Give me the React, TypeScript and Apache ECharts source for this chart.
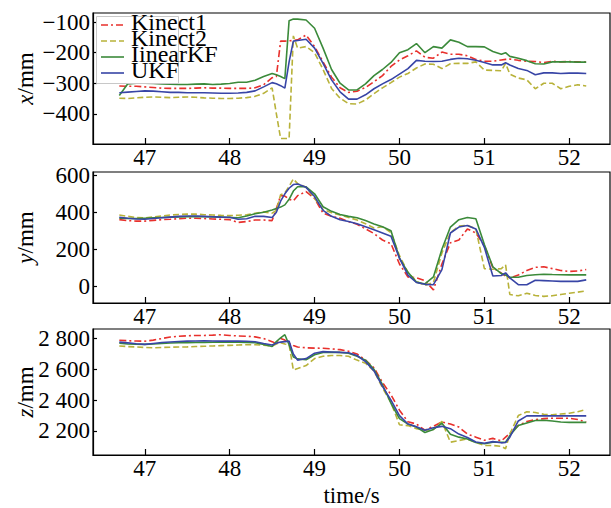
import React, { useEffect, useRef } from "react";
import * as echarts from "echarts";

const FONT = "Liberation Serif, DejaVu Serif";

const T = [
  46.7, 46.8, 46.9, 47.0, 47.1, 47.2, 47.3, 47.4, 47.5, 47.6,
  47.7, 47.8, 47.9, 48.0, 48.1, 48.2, 48.3, 48.4, 48.5, 48.55,
  48.6, 48.65, 48.7, 48.75, 48.8, 48.9, 49.0, 49.1, 49.2, 49.3,
  49.4, 49.5, 49.6, 49.7, 49.8, 49.9, 50.0, 50.1, 50.2, 50.3,
  50.4, 50.5, 50.6, 50.7, 50.8, 50.9, 51.0, 51.1, 51.2, 51.25,
  51.3, 51.4, 51.5, 51.6, 51.7, 51.8, 51.9, 52.0, 52.1, 52.2,
];

const NAMES = ["Kinect1", "Kinect2", "IinearKF", "UKF"];
const COLORS = ["#e8302c", "#b8b23a", "#3b8a3a", "#3845a6"];

const xKinect1 = [
  -309, -310, -310, -312, -314, -316, -317, -317, -317, -316,
  -315, -316, -316, -317, -317, -317, -315, -305, -282, -278,
  -162, -162, -161, -160, -158, -142, -180, -230, -280, -315,
  -330, -326, -314, -295, -275, -245, -224, -210, -194, -215,
  -218, -198, -205, -205, -210, -222, -228, -228, -224, -222,
  -221, -225, -228, -229, -232, -228, -230, -229, -230, -231,
];
const xKinect2 = [
  -349, -350, -348, -346, -345, -346, -347, -346, -345, -346,
  -348, -349, -350, -350, -349, -347, -343, -333, -315, -400,
  -481, -481, -481, -145, -185, -180, -200, -255, -317, -349,
  -367, -368, -355, -334, -315, -298, -280, -268, -250, -237,
  -238, -252, -236, -235, -235, -230, -257, -258, -259, -235,
  -270, -283, -289, -318, -300, -300, -318, -310, -305, -309,
];
const xLinearKF = [
  -340, -302, -300, -300, -301, -302, -303, -304, -304, -303,
  -302, -304, -303, -301, -297, -297, -290, -278, -268, -272,
  -278, -285, -95, -90, -90, -93, -120, -185, -255, -300,
  -322, -322, -302, -275, -255, -232, -200, -190, -170, -200,
  -180, -185, -158, -166, -180, -180, -181, -196, -205, -200,
  -212, -218, -226, -236, -237, -230, -230, -230, -231, -231,
];
const xUKF = [
  -331, -329, -327, -325, -326, -328, -330, -330, -331, -331,
  -331, -332, -333, -333, -332, -330, -325, -312, -298, -302,
  -308, -316, -230, -162, -160, -156, -185, -235, -289, -328,
  -352, -352, -338, -318, -302, -288, -270, -252, -225, -228,
  -229, -228, -222, -218, -220, -225, -232, -240, -240, -233,
  -240, -252, -258, -272, -266, -266, -268, -267, -267, -268,
];

const yKinect1 = [
  360, 355, 352, 352, 356, 360, 362, 365, 368, 368,
  366, 364, 362, 360, 345, 350, 358, 358, 355, 420,
  490, 488, 470, 462, 490, 512, 475, 395, 378, 368,
  350, 335, 310, 285, 250, 230, 120, 50, 45, 30,
  -20, 120, 235, 250, 310, 288, 220, 100, 70, 55,
  45, 60, 85, 102, 105, 95, 85, 80, 82, 90,
];
const yKinect2 = [
  385, 378, 372, 370, 375, 380, 385, 388, 390, 390,
  387, 385, 383, 382, 384, 386, 395, 402, 395, 410,
  495, 505, 540, 580, 555, 535, 475, 415, 398, 385,
  372, 358, 338, 315, 322, 290, 165, 75, 25, 5,
  20, 180, 290, 325, 330, 310, 95, 92, 95, 115,
  -45, -52, -38, -50, -55, -52, -45, -38, -32, -26,
];
const yLinearKF = [
  368, 366, 366, 368, 370, 372, 374, 375, 376, 377,
  376, 375, 374, 372, 370, 380, 392, 400, 412, 420,
  428, 440, 470, 515, 538, 538, 500, 430, 405, 388,
  378, 370, 355, 337, 322, 300, 152, 75, 22, 12,
  50, 200, 320, 360, 372, 365, 225, 105, 68, 60,
  48, 48, 58, 62, 65, 63, 62, 61, 61, 61,
];
const yUKF = [
  373, 368, 364, 362, 366, 370, 374, 378, 380, 380,
  378, 376, 374, 373, 362, 365, 378, 378, 372, 400,
  460, 500, 530, 550, 553, 535, 485, 410, 378, 360,
  350, 338, 322, 305, 288, 270, 152, 60, 20, 10,
  8, 90, 288, 320, 328, 310, 210, 55, 58, 72,
  45, 8, 8, 32, 30, 28, 26, 26, 26, 34,
];

const zKinect1 = [
  2789, 2786, 2784, 2783, 2790, 2800, 2810, 2815, 2818, 2820,
  2820, 2822, 2825, 2820, 2817, 2815, 2811, 2800, 2780, 2765,
  2800, 2790, 2770, 2755, 2745, 2740, 2738, 2737, 2733, 2728,
  2718, 2700, 2660, 2610, 2515, 2435, 2335, 2260, 2245, 2205,
  2231, 2258, 2245, 2225, 2180, 2160, 2140, 2152, 2135, 2160,
  2185, 2235, 2262, 2273, 2280, 2283, 2283, 2283, 2275, 2256,
];
const zKinect2 = [
  2752, 2748, 2745, 2742, 2740, 2742, 2744, 2745, 2746, 2748,
  2750, 2752, 2754, 2756, 2758, 2760, 2760, 2757, 2752, 2765,
  2773, 2765, 2760, 2596, 2605, 2625, 2670, 2685, 2690, 2690,
  2685, 2660, 2640, 2590, 2480, 2385, 2240, 2235, 2215, 2205,
  2210, 2262, 2127, 2138, 2148, 2125, 2106, 2106, 2100, 2085,
  2180, 2300, 2325, 2320, 2308, 2305, 2310, 2315, 2325, 2340,
];
const zLinearKF = [
  2769, 2765, 2763, 2762, 2765, 2768, 2771, 2773, 2773, 2774,
  2775, 2776, 2777, 2777, 2776, 2775, 2773, 2762, 2748, 2780,
  2805, 2825, 2760, 2680, 2668, 2662, 2695, 2710, 2710, 2710,
  2705, 2685, 2660, 2600, 2500, 2380, 2280, 2245, 2225, 2190,
  2210, 2250, 2179, 2160, 2148, 2125, 2117, 2127, 2127, 2127,
  2170, 2235, 2252, 2268, 2270, 2265, 2258, 2256, 2256, 2256,
];
const zUKF = [
  2777, 2772, 2766, 2762, 2768, 2774, 2778, 2781, 2783, 2784,
  2785, 2784, 2783, 2783, 2783, 2782, 2779, 2768, 2758, 2770,
  2777, 2780, 2783, 2700, 2660, 2670, 2705, 2715, 2713, 2710,
  2708, 2690, 2650, 2590, 2490, 2400, 2300, 2245, 2228, 2205,
  2221, 2230, 2215, 2180, 2158, 2128, 2120, 2131, 2123, 2125,
  2160, 2265, 2298, 2298, 2298, 2298, 2298, 2298, 2298, 2298,
];

const X_TICKS = [47, 48, 49, 50, 51, 52];
const Y1_TICKS = [-400, -300, -200, -100];
const Y2_TICKS = [0, 200, 400, 600];
const Y3_TICKS = [2200, 2400, 2600, 2800];

const PANELS = [
  { series: [xKinect1, xKinect2, xLinearKF, xUKF], ticks: Y1_TICKS, min: -499, max: -70, axisVar: "x" },
  { series: [yKinect1, yKinect2, yLinearKF, yUKF], ticks: Y2_TICKS, min: -91, max: 618, axisVar: "y" },
  { series: [zKinect1, zKinect2, zLinearKF, zUKF], ticks: Y3_TICKS, min: 2044, max: 2862, axisVar: "z" },
];

const GRID_TOPS = [13, 172, 329];
const GRID_H = 131;

const LINE_TYPES: any[] = [[7, 3, 2, 3], [6, 3], "solid", "solid"];

function fmtY(v: number): string {
  const s = String(Math.abs(v));
  const body = s.length > 3 ? s.slice(0, s.length - 3) + " " + s.slice(s.length - 3) : s;
  return (v < 0 ? "\u2212" : "") + body;
}

export default function App() {
  const ref = useRef<HTMLDivElement>(null);
  useEffect(() => {
    if (!ref.current) return;
    const chart = echarts.init(ref.current, undefined, { renderer: "svg" });
    const grids = GRID_TOPS.map((top) => ({
      left: 93,
      right: 1,
      top,
      height: GRID_H,
      show: true,
      borderColor: "#000",
      borderWidth: 1.2,
      backgroundColor: "transparent",
    }));
    const xAxes = GRID_TOPS.map((_, i) => ({
      type: "value",
      gridIndex: i,
      min: 46.39,
      max: 52.48,
      axisLine: { show: true, onZero: false, lineStyle: { color: "#000", width: 1.2 } },
      axisTick: { show: true, inside: true, length: 6, customValues: X_TICKS, lineStyle: { color: "#000", width: 1.2 } },
      axisLabel: {
        show: true,
        customValues: X_TICKS,
        margin: 2,
        color: "#000",
        fontFamily: FONT,
        fontSize: 23,
        formatter: (v: number) => String(v),
      },
      splitLine: { show: false },
      name: i === 2 ? "time/s" : "",
      nameLocation: "middle",
      nameGap: 29,
      nameMoveOverlap: false,
      nameTextStyle: { color: "#000", fontFamily: FONT, fontSize: 23 },
    }));
    const yAxes = PANELS.map((p, i) => ({
      type: "value",
      gridIndex: i,
      min: p.min,
      max: p.max,
      axisLine: { show: true, onZero: false, lineStyle: { color: "#000", width: 1.2 } },
      axisTick: { show: true, inside: true, length: 4, customValues: p.ticks, lineStyle: { color: "#000", width: 1.2 } },
      axisLabel: {
        show: true,
        customValues: p.ticks,
        margin: 3,
        color: "#000",
        fontFamily: FONT,
        fontSize: 23,
        formatter: (v: number) => fmtY(v),
      },
      splitLine: { show: false },
      name: "{i|" + p.axisVar + "}{n|/mm}",
      nameLocation: "middle",
      nameGap: 56,
      nameMoveOverlap: false,
      nameTextStyle: {
        color: "#000",
        fontFamily: FONT,
        fontSize: 23,
        rich: {
          i: { fontStyle: "italic", fontFamily: FONT, fontSize: 23, color: "#000" },
          n: { fontFamily: FONT, fontSize: 23, color: "#000" },
        },
      },
    }));
    const series: any[] = [];
    PANELS.forEach((p, pi) => {
      p.series.forEach((vals, si) => {
        series.push({
          type: "line",
          name: NAMES[si],
          xAxisIndex: pi,
          yAxisIndex: pi,
          data: T.map((t, k) => [t, vals[k]]),
          symbol: "none",
          showSymbol: false,
          lineStyle: { color: COLORS[si], width: 1.6, type: LINE_TYPES[si] },
          itemStyle: { color: COLORS[si] },
          z: 2,
        });
      });
    });
    const rowY = [25, 41, 57, 73];
    const legendEls: any[] = [
      {
        type: "rect",
        z: 10,
        shape: { x: 96.5, y: 16.5, width: 82, height: 67 },
        style: { fill: "#fff", stroke: "#c8c8c8", lineWidth: 1 },
      },
    ];
    NAMES.forEach((n, i) => {
      const dash = LINE_TYPES[i];
      legendEls.push({
        type: "line",
        z: 11,
        shape: { x1: 101, y1: rowY[i], x2: 124, y2: rowY[i] },
        style: {
          stroke: COLORS[i],
          lineWidth: 1.6,
          lineDash: Array.isArray(dash) ? dash : null,
        },
      });
      legendEls.push({
        type: "text",
        z: 11,
        x: 131,
        y: rowY[i] - 3,
        style: {
          text: n,
          fill: "#000",
          fontFamily: FONT,
          fontSize: 24,
          verticalAlign: "middle",
          align: "left",
        },
      });
    });
    chart.setOption({
      animation: false,
      backgroundColor: "#fff",
      grid: grids,
      xAxis: xAxes,
      yAxis: yAxes,
      series,
      graphic: legendEls,
    });
    return () => chart.dispose();
  }, []);
  return (
    <div
      ref={ref}
      style={{ position: "fixed", left: 0, top: 0, width: 611, height: 508, background: "#fff" }}
    />
  );
}
